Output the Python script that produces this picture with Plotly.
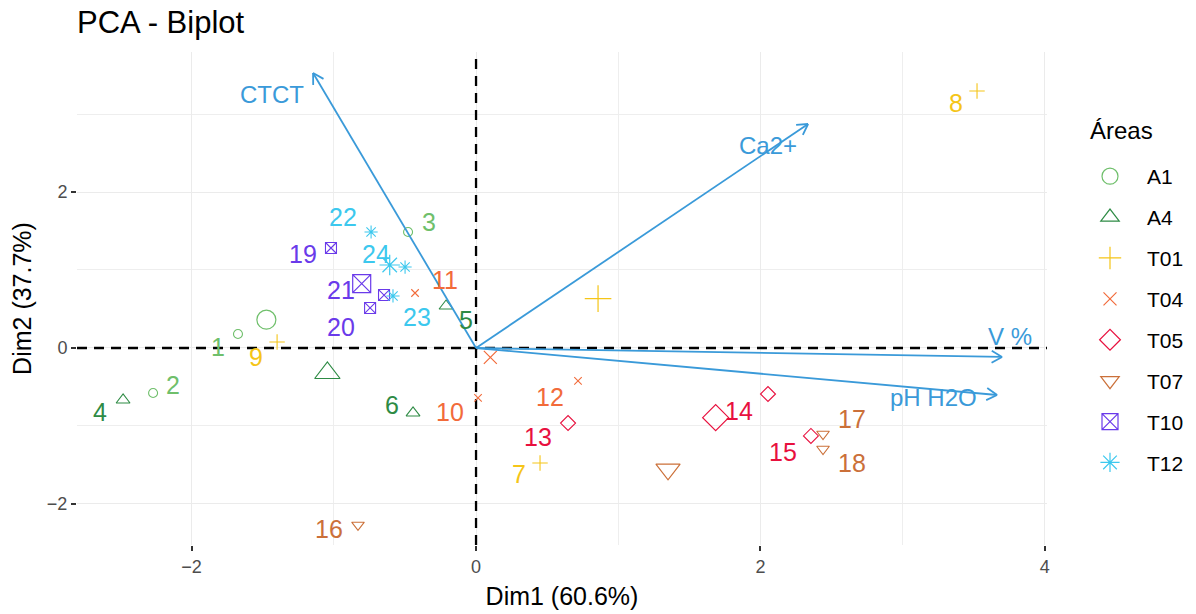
import numpy as np
import plotly.graph_objects as go

# ---- individuals (PCA scores on Dim1 / Dim2) ----
ind_labels = [str(i) for i in range(1, 25)]
ind_area = ["A1", "A1", "A1", "A4", "A4", "A4", "T01", "T01", "T01",
            "T04", "T04", "T04", "T05", "T05", "T05", "T07", "T07", "T07",
            "T10", "T10", "T10", "T12", "T12", "T12"]
dim1 = [-1.674, -2.271, -0.478, -2.482, -0.211, -0.443, 0.450, 3.523, -1.399,
        0.014, -0.429, 0.717, 0.647, 2.053, 2.355, -0.830, 2.440, 2.440,
        -1.020, -0.745, -0.647, -0.738, -0.584, -0.499]
dim2 = [0.179, -0.577, 1.487, -0.667, 0.538, -0.833, -1.474, 3.295, 0.077,
        -0.641, 0.705, -0.423, -0.962, -0.590, -1.128, -2.269, -1.103, -1.295,
        1.282, 0.513, 0.679, 1.487, 0.667, 1.038]

# ---- variables (loadings, scaled) ----
var_names = ["CTCT", "Ca2+", "V %", "pH H2O"]
var_dim1 = [-1.146, 2.335, 3.699, 3.664]
var_dim2 = [3.526, 2.872, -0.115, -0.603]

areas = ["A1", "A4", "T01", "T04", "T05", "T07", "T10", "T12"]
pct_dim1 = 60.6
pct_dim2 = 37.7

# ---- styling ----
FONT = "Liberation Sans, Arial, sans-serif"
area_style = {
    "A1":  dict(color="#6FBF6B", symbol="circle-open",        size=9,    msize=19),
    "A4":  dict(color="#2E8B45", symbol="triangle-up-open",   size=12,   msize=22),
    "T01": dict(color="#F5C518", symbol="cross-thin-open",    size=11,   msize=19),
    "T04": dict(color="#F26B3A", symbol="x-thin-open",        size=7.5,  msize=13),
    "T05": dict(color="#E8103E", symbol="diamond-open",       size=11.5, msize=20),
    "T07": dict(color="#CB7039", symbol="triangle-down-open", size=11,   msize=21),
    "T10": dict(color="#6A3AEA", symbol="square-x-open",      size=11,   msize=18),
    "T12": dict(color="#3CC8EE", symbol="asterisk-open",      size=11,   msize=17),
}
# label nudges in pixels (dx right, dy down), repel-like placement
label_nudge = {
    "1": (-20, 13), "2": (20, -8), "3": (21, -10), "4": (-23, 12),
    "5": (20, 14), "6": (-21, -8), "7": (-21, 11), "8": (-21, 12),
    "9": (-21, 15), "10": (-28, 14), "11": (30, -13), "12": (-28, 16),
    "13": (-30, 14), "14": (-29, 17), "15": (-28, 16), "16": (-29, 4),
    "17": (29, -15), "18": (29, 14), "19": (-28, 6), "20": (-29, 19),
    "21": (-43, -5), "22": (-28, -15), "23": (24, 21), "24": (-29, -13),
}
var_nudge = {"CTCT": (-41, 22), "Ca2+": (-40, 22), "V %": (8, -20), "pH H2O": (-64, 2)}
ARROW_COL = "#3A9AD9"

W, H = 1196, 614
ML, MR, MT, MB = 77, 149, 52, 69
XR = [-2.806, 4.015]
YR = [-2.526, 3.795]
sx = (W - ML - MR) / (XR[1] - XR[0])
sy = (H - MT - MB) / (YR[1] - YR[0])

fig = go.Figure()

# dashed reference lines through the origin, spanning the panel
dash_line = dict(color="black", width=2.3, dash="10px,7px")
fig.add_trace(go.Scatter(x=XR, y=[0, 0], mode="lines", line=dash_line,
                         showlegend=False, hoverinfo="skip"))
fig.add_trace(go.Scatter(x=[0, 0], y=YR, mode="lines", line=dash_line,
                         showlegend=False, hoverinfo="skip"))

x_arr = np.array(dim1)
y_arr = np.array(dim2)
a_arr = np.array(ind_area)

for a in areas:
    st = area_style[a]
    m = a_arr == a
    # individual points
    fig.add_trace(go.Scatter(
        x=x_arr[m], y=y_arr[m], mode="markers", name=a, legendgroup=a,
        showlegend=False,
        marker=dict(symbol=st["symbol"], size=st["size"], color=st["color"],
                    line=dict(width=1.1, color=st["color"])),
        hoverinfo="skip"))
    # group centroid
    fig.add_trace(go.Scatter(
        x=[x_arr[m].mean()], y=[y_arr[m].mean()], mode="markers", name=a,
        legendgroup=a, showlegend=True,
        marker=dict(symbol=st["symbol"], size=st["msize"], color=st["color"],
                    line=dict(width=1.2, color=st["color"])),
        hoverinfo="skip"))

# variable arrows with open heads
head_len = 12.0
head_ang = np.deg2rad(30)
ax_x, ax_y = [], []
for vx, vy in zip(var_dim1, var_dim2):
    ax_x += [0, vx, None]
    ax_y += [0, vy, None]
    ux, uy = vx * sx, vy * sy
    n = np.hypot(ux, uy)
    bx, by = -ux / n, -uy / n
    for s in (1, -1):
        c, si = np.cos(s * head_ang), np.sin(s * head_ang)
        rx = bx * c - by * si
        ry = bx * si + by * c
        ax_x += [vx + head_len * rx / sx, vx, None]
        ax_y += [vy + head_len * ry / sy, vy, None]
fig.add_trace(go.Scatter(x=ax_x, y=ax_y, mode="lines", showlegend=False,
                         line=dict(color=ARROW_COL, width=1.8), hoverinfo="skip"))

annotations = []
for lab, xv, yv, a in zip(ind_labels, dim1, dim2, ind_area):
    dx, dy = label_nudge[lab]
    annotations.append(dict(x=xv, y=yv, xref="x", yref="y", text=lab,
                            showarrow=False, xshift=dx, yshift=-dy,
                            font=dict(family=FONT, size=25, color=area_style[a]["color"])))
for nm, xv, yv in zip(var_names, var_dim1, var_dim2):
    dx, dy = var_nudge[nm]
    annotations.append(dict(x=xv, y=yv, xref="x", yref="y", text=nm,
                            showarrow=False, xshift=dx, yshift=-dy,
                            font=dict(family=FONT, size=24, color=ARROW_COL)))
# legend heading
annotations.append(dict(text="Áreas", xref="paper", yref="paper",
                        x=(1088 - ML) / (W - ML - MR), xanchor="left",
                        y=1 - (130 - MT) / (H - MT - MB), yanchor="middle",
                        showarrow=False,
                        font=dict(family=FONT, size=24, color="black")))

axis_common = dict(
    showline=False, zeroline=False, ticks="outside", ticklen=5, tickwidth=1.5,
    tickcolor="#333333", tickfont=dict(family=FONT, size=18, color="#4D4D4D"),
    showgrid=True, gridcolor="#EBEBEB", gridwidth=1,
    minor=dict(dtick=1, showgrid=True, gridcolor="#EEEEEE", gridwidth=1, ticks=""),
    dtick=2, tick0=0,
)

fig.update_layout(
    width=W, height=H,
    margin=dict(l=ML, r=MR, t=MT, b=MB, autoexpand=False),
    plot_bgcolor="white", paper_bgcolor="white",
    font=dict(family=FONT),
    title=dict(text="PCA - Biplot", x=ML / W, xanchor="left", xref="container",
               y=1 - 22 / H, yanchor="middle", yref="container",
               font=dict(family=FONT, size=31, color="black")),
    xaxis=dict(range=XR, title=dict(text=f"Dim1 ({pct_dim1}%)", standoff=11,
                                    font=dict(family=FONT, size=25, color="black")),
               **axis_common),
    yaxis=dict(range=YR, title=dict(text=f"Dim2 ({pct_dim2}%)", standoff=8,
                                    font=dict(family=FONT, size=25, color="black")),
               **axis_common),
    legend=dict(font=dict(family=FONT, size=21, color="black"),
                x=(1073 - ML) / (W - ML - MR), xanchor="left",
                y=1 - (156 - MT) / (H - MT - MB), yanchor="top",
                tracegroupgap=10.6, itemwidth=64, itemsizing="trace",
                bgcolor="rgba(0,0,0,0)"),
    annotations=annotations,
)

fig.write_html("out.html")
